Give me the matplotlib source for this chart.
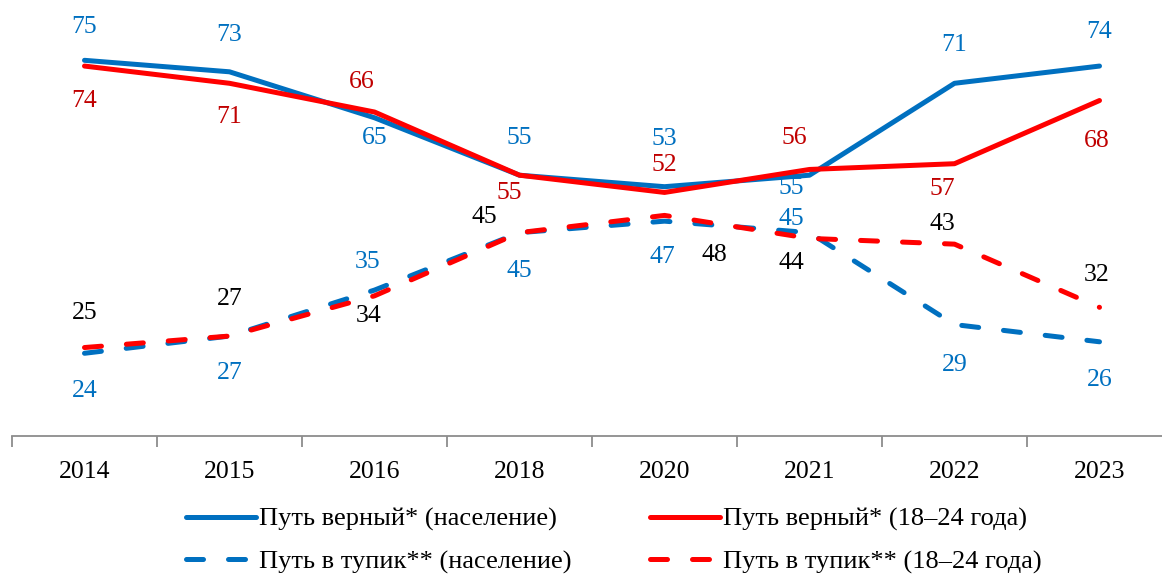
import matplotlib.pyplot as plt
from matplotlib.lines import Line2D
import numpy as np

plt.rcParams["font.family"] = ["Liberation Serif", "DejaVu Serif"]

years = ["2014", "2015", "2016", "2018", "2020", "2021", "2022", "2023"]
right_pop = [75, 73, 65, 55, 53, 55, 71, 74]
right_young = [74, 71, 66, 55, 52, 56, 57, 68]
dead_pop = [24, 27, 35, 45, 47, 45, 29, 26]
dead_young = [25, 27, 34, 45, 48, 44, 43, 32]

legend_labels = [
    "Путь верный* (население)",
    "Путь верный* (18–24 года)",
    "Путь в тупик** (население)",
    "Путь в тупик** (18–24 года)",
]

BLUE = "#0070C0"
RED = "#FF0000"
DARK_RED = "#C00000"

# label offsets in pixels (dx, dy), picked by eye to avoid overlaps
off_right_pop = [(0, 33), (0, 37), (0, -20), (0, 37), (0, 48), (-18, -13), (0, 38), (0, 34)]
off_right_young = [(0, -35), (0, -34), (-13, 30), (-10, -18), (0, 27), (-15, 31), (-12, -25), (-3, -40)]
off_dead_pop = [(0, -38), (0, -37), (-7, 28), (0, -38), (-2, -36), (-18, 14), (0, -40), (0, -38)]
off_dead_young = [(0, 35), (0, 37), (-6, -20), (-35, 16), (50, -40), (-18, -25), (-12, 20), (-3, 32)]

fig = plt.figure(figsize=(11.62, 5.78), dpi=100)
ax = fig.add_axes([12 / 1162, 142 / 578, 1160 / 1162, 436 / 578])

x = np.arange(len(years))
dash = (3.4, 5.0)

series = [
    (dead_pop, BLUE, "--", BLUE, off_dead_pop),
    (dead_young, RED, "--", "black", off_dead_young),
    (right_pop, BLUE, "-", BLUE, off_right_pop),
    (right_young, RED, "-", DARK_RED, off_right_young),
]

for values, color, style, label_color, offsets in series:
    if style == "--":
        ax.plot(x, values, color=color, linewidth=3.6, dashes=dash,
                dash_capstyle="round", solid_joinstyle="round")
    else:
        ax.plot(x, values, color=color, linewidth=3.6,
                solid_capstyle="round", solid_joinstyle="round")
    for xi, v, (dx, dy) in zip(x, values, offsets):
        ax.annotate(str(v), (xi, v), xytext=(dx * 0.72, dy * 0.72),
                    textcoords="offset points", ha="center", va="center",
                    fontsize=18.5, color=label_color)

ax.set_xlim(-0.5, 7.5)
ax.set_ylim(9.6, 85.5)

for side in ["top", "right", "left"]:
    ax.spines[side].set_visible(False)
ax.spines["bottom"].set_color("#8c8c8c")
ax.spines["bottom"].set_linewidth(1.3)

ax.set_yticks([])
ax.set_xticks(x)
ax.set_xticklabels(years, fontsize=18.5)
ax.tick_params(axis="x", which="major", length=0, pad=18)
ax.set_xticks(np.arange(-0.5, 8, 1), minor=True)
ax.tick_params(axis="x", which="minor", length=8, width=1.3, color="#8c8c8c")

handles = [
    Line2D([], [], color=BLUE, linewidth=3.6, solid_capstyle="round"),
    Line2D([], [], color=RED, linewidth=3.6, solid_capstyle="round"),
    Line2D([], [], color=BLUE, linewidth=3.6, dashes=dash, dash_capstyle="round"),
    Line2D([], [], color=RED, linewidth=3.6, dashes=dash, dash_capstyle="round"),
]
order = [0, 2, 1, 3]
fig.legend([handles[i] for i in order], [legend_labels[i] for i in order],
           loc="center", bbox_to_anchor=(0.528, 0.0645), ncol=2, frameon=False,
           fontsize=19, handlelength=2.65, handletextpad=0.12,
           columnspacing=2.97, labelspacing=0.7)

fig.savefig("out.png", dpi=100)
